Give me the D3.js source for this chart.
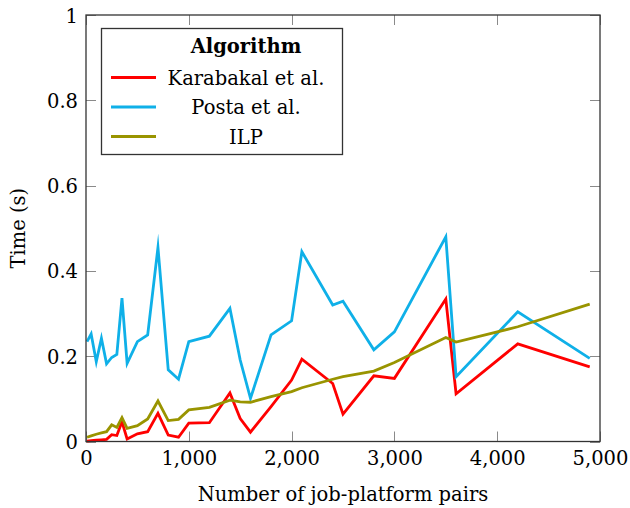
<!DOCTYPE html>
<html>
<head>
<meta charset="utf-8">
<script src="https://cdn.jsdelivr.net/npm/d3@7"></script>
<style>
  html, body { margin: 0; padding: 0; background: #fff; }
  svg text { font-family: "DejaVu Serif", serif; fill: #000; }
</style>
</head>
<body>
<svg id="chart" width="630" height="508"></svg>
<script>
// Number of job-platform pairs per instance
const pairs = [10, 50, 100, 150, 200, 250, 300, 350, 400, 500, 600, 700, 800, 900, 1000,
  1200, 1400, 1500, 1600, 1800, 2000, 2100, 2400, 2500, 2800, 3000, 3500, 3600, 4200, 4900];

// Run time in seconds for each algorithm
const karabakal = [0.001, 0.002, 0.003, 0.004, 0.005, 0.016, 0.014, 0.046, 0.006, 0.018, 0.023, 0.066, 0.015, 0.010, 0.043,
  0.044, 0.114, 0.054, 0.022, 0.082, 0.144, 0.193, 0.136, 0.064, 0.154, 0.148, 0.334, 0.112, 0.229, 0.175];
const posta = [0.234, 0.252, 0.187, 0.242, 0.182, 0.197, 0.204, 0.336, 0.183, 0.234, 0.250, 0.455, 0.168, 0.146, 0.234,
  0.247, 0.312, 0.191, 0.101, 0.250, 0.283, 0.445, 0.320, 0.329, 0.215, 0.257, 0.480, 0.152, 0.304, 0.195];
const ilp = [0.010, 0.013, 0.017, 0.020, 0.023, 0.039, 0.033, 0.056, 0.031, 0.037, 0.053, 0.095, 0.049, 0.052, 0.074,
  0.080, 0.097, 0.093, 0.092, 0.105, 0.117, 0.126, 0.146, 0.152, 0.165, 0.185, 0.244, 0.233, 0.269, 0.322];

const seriesNames = ["Karabakal et al.", "Posta et al.", "ILP"];
const seriesColors = ["#ff0000", "#0fb0e8", "#999400"];
const xTicks = [0, 1000, 2000, 3000, 4000, 5000];
const yTicks = [0, 0.2, 0.4, 0.6, 0.8, 1];

const svg = d3.select("#chart");
const plot = { left: 86, right: 600, top: 15, bottom: 441.5 };

const x = d3.scaleLinear().domain([0, 5000]).range([plot.left, plot.right]);
const y = d3.scaleLinear().domain([0, 1]).range([plot.bottom, plot.top]);

const tickLen = 10;
const fmtX = d3.format(",");
const fmtY = v => (v === 0 || v === 1) ? String(v) : d3.format(".1f")(v);

// Inward ticks on all four sides
const tickColor = "#8a8a8a";
const ticks = svg.append("g").attr("stroke", tickColor).attr("stroke-width", 1);
xTicks.forEach(t => {
  const px = Math.round(x(t)) + 0.5;
  ticks.append("line").attr("x1", px).attr("x2", px).attr("y1", plot.bottom).attr("y2", plot.bottom - tickLen);
  ticks.append("line").attr("x1", px).attr("x2", px).attr("y1", plot.top).attr("y2", plot.top + tickLen);
});
yTicks.forEach(t => {
  const py = Math.round(y(t)) + 0.5;
  ticks.append("line").attr("x1", plot.left).attr("x2", plot.left + tickLen).attr("y1", py).attr("y2", py);
  ticks.append("line").attr("x1", plot.right).attr("x2", plot.right - tickLen).attr("y1", py).attr("y2", py);
});

// Tick labels via d3 axes with the axis lines hidden
const xAxis = svg.append("g")
  .attr("transform", `translate(0,${plot.bottom})`)
  .call(d3.axisBottom(x).tickValues(xTicks).tickFormat(fmtX).tickSize(0).tickPadding(23));
const yAxis = svg.append("g")
  .attr("transform", `translate(${plot.left},0)`)
  .call(d3.axisLeft(y).tickValues(yTicks).tickFormat(fmtY).tickSize(0).tickPadding(8));
[xAxis, yAxis].forEach(a => {
  a.select(".domain").remove();
  a.selectAll("text").attr("font-family", "DejaVu Serif").attr("font-size", 19.5).attr("fill", "#000");
});
xAxis.selectAll("text").attr("dy", null).attr("y", 23);
yAxis.selectAll("text").attr("dy", "0.36em");

// Series lines
const line = d3.line().x((d, i) => x(pairs[i])).y(d => y(d));
[karabakal, posta, ilp].forEach((vals, k) => {
  svg.append("path")
    .datum(vals)
    .attr("d", line)
    .attr("fill", "none")
    .attr("stroke", seriesColors[k])
    .attr("stroke-width", 2.8)
    .attr("stroke-linejoin", "miter")
    .attr("stroke-miterlimit", 10);
});

// Plot frame
svg.append("rect")
  .attr("x", plot.left).attr("y", plot.top)
  .attr("width", plot.right - plot.left).attr("height", plot.bottom - plot.top)
  .attr("fill", "none").attr("stroke", "#333").attr("stroke-width", 1.3);

// Axis titles
svg.append("text")
  .attr("x", (plot.left + plot.right) / 2).attr("y", 501)
  .attr("text-anchor", "middle").attr("font-size", 19.5)
  .text("Number of job-platform pairs");
svg.append("text")
  .attr("transform", `translate(25,${(plot.top + plot.bottom) / 2}) rotate(-90)`)
  .attr("text-anchor", "middle").attr("font-size", 19.5)
  .text("Time (s)");

// Legend
const lg = svg.append("g");
lg.append("rect")
  .attr("x", 101.5).attr("y", 28.5).attr("width", 241).attr("height", 126)
  .attr("fill", "#fff").attr("stroke", "#333").attr("stroke-width", 1.3);
lg.append("text")
  .attr("x", 246).attr("y", 53).attr("text-anchor", "middle")
  .attr("font-size", 19.5).attr("font-weight", "bold")
  .text("Algorithm");
seriesNames.forEach((name, i) => {
  const cy = 77.5 + i * 29.5;
  lg.append("line")
    .attr("x1", 111).attr("x2", 156).attr("y1", cy).attr("y2", cy)
    .attr("stroke", seriesColors[i]).attr("stroke-width", 2.8);
  lg.append("text")
    .attr("x", 246).attr("y", cy + 7).attr("text-anchor", "middle")
    .attr("font-size", 19.5)
    .text(name);
});
</script>
</body>
</html>
